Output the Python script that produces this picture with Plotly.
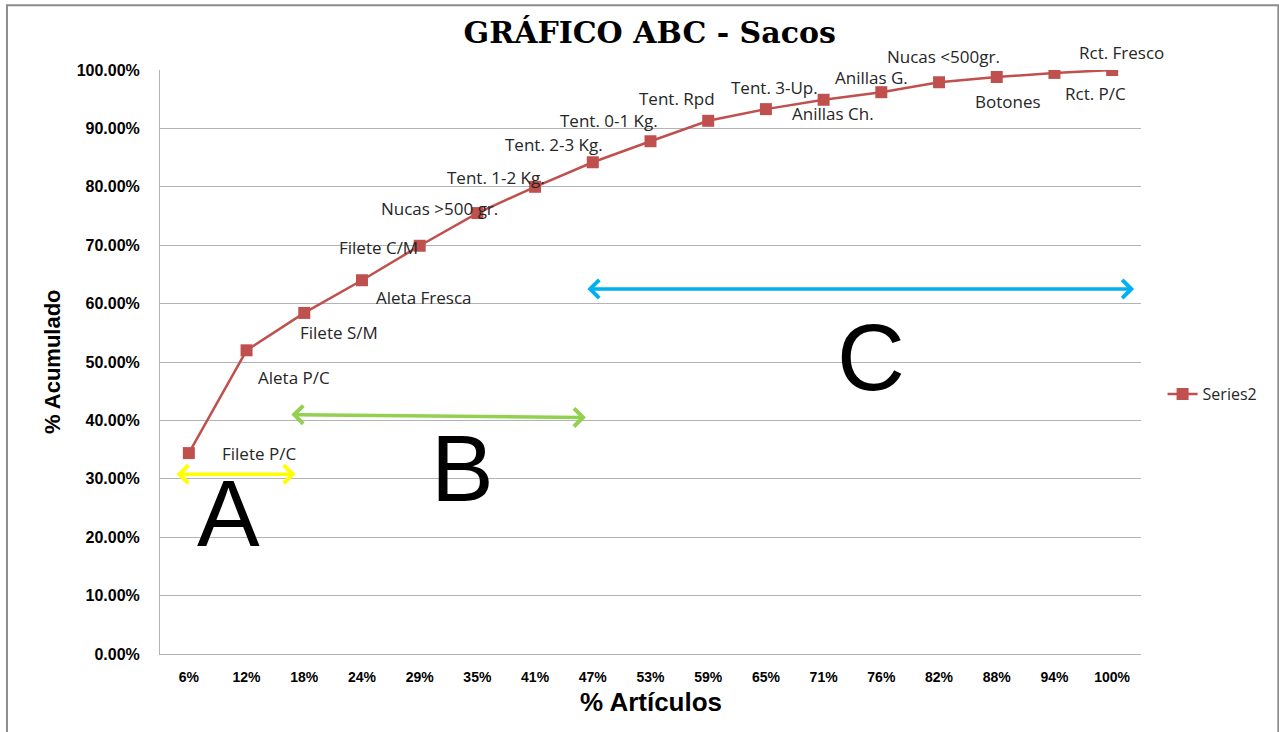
import plotly.graph_objects as go

# Cumulative ABC curve for sacks
categorias = ["6%", "12%", "18%", "24%", "29%", "35%", "41%", "47%", "53%",
              "59%", "65%", "71%", "76%", "82%", "88%", "94%", "100%"]
acumulado = [0.344, 0.520, 0.584, 0.640, 0.699, 0.755, 0.800, 0.842, 0.878,
             0.913, 0.933, 0.949, 0.962, 0.979, 0.988, 0.995, 1.000]
articulos = ["Filete P/C", "Aleta P/C", "Filete S/M", "Aleta Fresca", "Filete C/M",
             "Nucas >500 gr.", "Tent. 1-2 Kg.", "Tent. 2-3 Kg.", "Tent. 0-1 Kg.",
             "Tent. Rpd", "Tent. 3-Up.", "Anillas Ch.", "Anillas G.", "Nucas <500gr.",
             "Botones", "Rct. P/C", "Rct. Fresco"]
y_ticks = [i / 10 for i in range(11)]

# label placement around each point (pixels)
label_dx = [70, 47, 35, 62, -41, -38, -39, -39, -42, -31, 9, 9, -10, 4, 11, 41, 9]
label_dy = [0, -27, -20, -17, -2, 5, 9, 18, 21, 22, 22, -14, 15, 26, -24, -21, 18]

ROJO = "#C0504D"
GRID = "#B3B3B3"

fig = go.Figure()
fig.add_trace(go.Scatter(
    x=list(range(len(categorias))), y=acumulado, name="Series2",
    mode="lines+markers",
    line=dict(color=ROJO, width=2.5),
    marker=dict(symbol="square", size=12, color=ROJO),
))

annotations = []
for i, (txt, v) in enumerate(zip(articulos, acumulado)):
    annotations.append(dict(
        x=i, y=v, xref="x", yref="y", text=txt, showarrow=False,
        xshift=label_dx[i], yshift=label_dy[i],
        font=dict(family="Open Sans", size=17, color="#262626"),
    ))

# class ranges: double-headed arrows
zonas = [
    ("A", -0.24, 1.85, 0.308, 0.308, "#FFFF00", 0.69, 0.241),
    ("B", 1.75, 6.88, 0.41, 0.405, "#92D050", 4.75, 0.318),
    ("C", 6.88, 16.38, 0.625, 0.625, "#00B0F0", 11.82, 0.508),
]
for letra, x0, x1, y0, y1, col, lx, ly in zonas:
    annotations.append(dict(
        x=x1, y=y1, ax=x0, ay=y0, xref="x", yref="y", axref="x", ayref="y",
        text="", showarrow=True, arrowside="end+start", arrowhead=4,
        startarrowhead=4, arrowsize=1, startarrowsize=1, arrowwidth=3.5,
        arrowcolor=col,
    ))
    annotations.append(dict(
        x=lx, y=ly, xref="x", yref="y", text=letra, showarrow=False,
        font=dict(family="Liberation Sans", size=94, color="#000000"),
    ))

# axis titles
annotations.append(dict(
    x=0.5, y=-0.083, xref="paper", yref="paper", text="<b>% Artículos</b>",
    showarrow=False, yanchor="middle",
    font=dict(family="Liberation Sans", size=26, color="#000"),
))
annotations.append(dict(
    x=-0.110, y=0.5, xref="paper", yref="paper", text="<b>% Acumulado</b>",
    showarrow=False, textangle=-90, xanchor="center",
    font=dict(family="Liberation Sans", size=22, color="#000"),
))

fig.update_layout(
    width=1279, height=732,
    margin=dict(l=160, r=138, t=70, b=78),
    paper_bgcolor="white", plot_bgcolor="white",
    title=dict(text="<b>GRÁFICO ABC - Sacos</b>", x=0.508, xanchor="center",
               y=0.955, yanchor="middle",
               font=dict(family="DejaVu Serif", size=30, color="#000")),
    showlegend=True,
    legend=dict(x=1.022, y=0.445, xanchor="left", yanchor="middle",
                font=dict(family="Open Sans", size=16, color="#262626"),
                bgcolor="rgba(0,0,0,0)"),
    annotations=annotations,
    shapes=[dict(type="rect", xref="paper", yref="paper",
                 x0=-0.156, x1=1.14, y0=-0.15, y1=1.111,
                 line=dict(color="#8C8C8C", width=2), layer="below")],
)
fig.update_xaxes(
    range=[-0.5, len(categorias) - 0.5],
    tickmode="array", tickvals=list(range(len(categorias))), ticktext=categorias,
    showgrid=False, showline=True, linecolor=GRID, linewidth=1,
    ticks="", ticklabelstandoff=10,
    tickfont=dict(family="Liberation Sans", size=14, color="#000", weight="bold"),
    zeroline=False,
)
fig.update_yaxes(
    range=[0, 1], tickvals=y_ticks, tickformat=".2%",
    showgrid=True, gridcolor=GRID, gridwidth=1,
    showline=True, linecolor=GRID, linewidth=1,
    ticks="", ticklabelstandoff=16,
    tickfont=dict(family="Liberation Sans", size=16, color="#000", weight="bold"),
    zeroline=False,
)

fig.write_html("out.html")
